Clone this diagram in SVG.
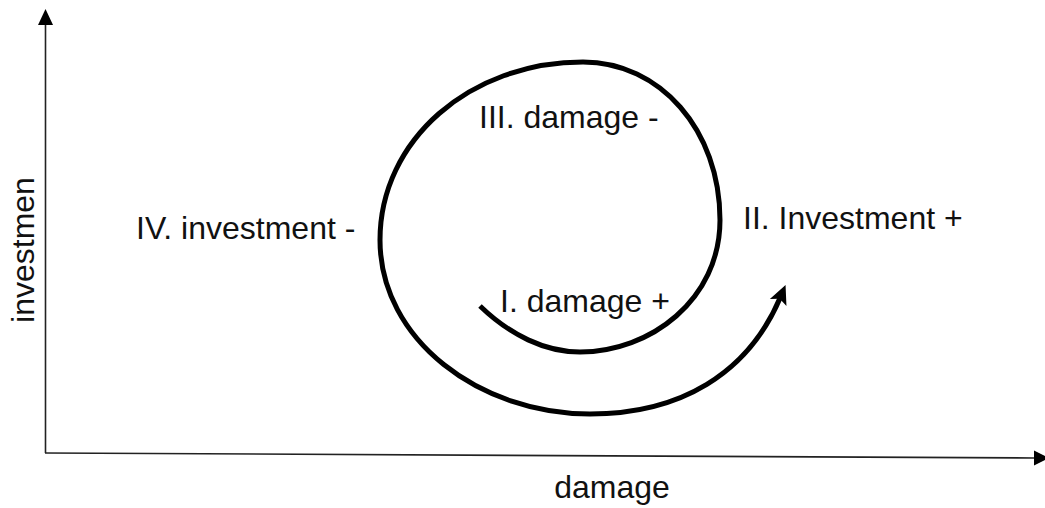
<svg xmlns="http://www.w3.org/2000/svg" width="1045" height="508" viewBox="0 0 1045 508">
  <style>
    .axis { stroke: #222; stroke-width: 1.6; fill: none; }
    .head { fill: #000; }
    .spiral { stroke: #000; stroke-width: 5; fill: none; stroke-linecap: butt; }
    .lbl { font-family: "Liberation Sans", Arial, sans-serif; font-size: 32px; fill: #111; }
  </style>
  <defs>
    <marker id="spiral-head" markerUnits="userSpaceOnUse" orient="auto" refX="0" refY="0" markerWidth="40" markerHeight="40" viewBox="-20 -20 40 40" overflow="visible">
      <path d="M 13 0 L -6 -9 L -2 0 L -6 9 Z" fill="#000"/>
    </marker>
  </defs>

  <!-- axes -->
  <g id="axes">
    <line class="axis" x1="45.5" y1="24" x2="45.5" y2="453"/>
    <polygon class="head" points="45.5,9 38,25 53,25"/>
    <line class="axis" x1="45" y1="453" x2="1034" y2="458"/>
    <polygon class="head" points="1049,458 1034,450.5 1034,465.5"/>
  </g>

  <!-- cycle spiral -->
  <g id="connectors">
    <path class="spiral" marker-end="url(#spiral-head)"
      d="M 480 306
         C 510 335, 545 352, 580 352
         C 650 352, 720 300, 720 220
         C 720 130, 660 62, 583 62
         C 470 62, 380 140, 380 240
         C 380 340, 480 414, 590 414
         C 680 414, 748 374, 780.5 297"/>
  </g>

  <!-- phase labels -->
  <g id="phase-1"><text class="lbl" x="500" y="312">I. damage +</text></g>
  <g id="phase-2"><text class="lbl" x="743" y="229">II. Investment +</text></g>
  <g id="phase-3"><text class="lbl" x="479" y="128">III. damage -</text></g>
  <g id="phase-4"><text class="lbl" x="136" y="239">IV. investment -</text></g>

  <!-- axis titles -->
  <g id="x-title"><text class="lbl" x="612" y="498" text-anchor="middle">damage</text></g>
  <g id="y-title"><text class="lbl" text-anchor="middle" transform="translate(34 250) rotate(-90)">investmen</text></g>
</svg>
